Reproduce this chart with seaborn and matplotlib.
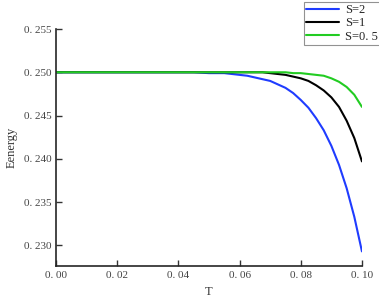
import numpy as np
import pandas as pd
import seaborn as sns
import matplotlib.pyplot as plt
from matplotlib.ticker import FuncFormatter

# valores
T = [0.00, 0.01, 0.02, 0.03, 0.04, 0.045, 0.05, 0.055, 0.06, 0.0625, 0.065, 0.0675,
     0.07, 0.0725, 0.075, 0.0775, 0.08, 0.0825, 0.085, 0.0875, 0.09, 0.0925,
     0.095, 0.0975, 0.10]
E_s2 = [0.2500, 0.2500, 0.2500, 0.2500, 0.2500, 0.2500, 0.2499, 0.2499, 0.2497, 0.2496,
        0.2494, 0.2492, 0.2490, 0.2486, 0.2482, 0.2476, 0.2468, 0.2459, 0.2447, 0.2433,
        0.2415, 0.2393, 0.2366, 0.2333, 0.2293]
E_s1 = [0.2500, 0.2500, 0.2500, 0.2500, 0.2500, 0.2500, 0.2500, 0.2500, 0.2500, 0.2500,
        0.2500, 0.2500, 0.2499, 0.2498, 0.2497, 0.2495, 0.2493, 0.2490, 0.2485, 0.2479,
        0.2471, 0.2460, 0.2444, 0.2424, 0.2397]
E_s05 = [0.2500, 0.2500, 0.2500, 0.2500, 0.2500, 0.2500, 0.2500, 0.2500, 0.2500, 0.2500,
         0.2500, 0.2500, 0.2500, 0.2500, 0.2500, 0.2499, 0.2499, 0.2498, 0.2497, 0.2496,
         0.2493, 0.2489, 0.2483, 0.2474, 0.2460]
labels = ['S=2', 'S=1', 'S=0. 5']
colors = ['#1f3cff', 'black', '#22cc22']

df = pd.DataFrame({'T': T * 3,
                   'E': E_s2 + E_s1 + E_s05,
                   'S': [labels[0]] * len(T) + [labels[1]] * len(T) + [labels[2]] * len(T)})

sns.set_style('ticks')
plt.rcParams['font.family'] = ['Liberation Serif', 'DejaVu Serif']

fig = plt.figure(figsize=(3.79, 2.99), dpi=100)
ax = fig.add_axes([0.148, 0.110, 0.807, 0.793])
sns.lineplot(data=df, x='T', y='E', hue='S', palette=colors, linewidth=1.5, ax=ax)

ax.set_xlim(0, 0.10)
ax.set_ylim(0.2276, 0.255)
ax.set_xticks(np.arange(0, 0.101, 0.02))
ax.set_yticks([0.230, 0.235, 0.240, 0.245, 0.250, 0.255])
ax.xaxis.set_major_formatter(FuncFormatter(lambda v, p: f'{v:.2f}'.replace('.', '. ')))
ax.yaxis.set_major_formatter(FuncFormatter(lambda v, p: f'{v:.3f}'.replace('.', '. ')))
ax.tick_params(direction='in', labelsize=8, length=4, width=1, colors='#333333', labelcolor='#444444')
ax.set_xlabel('T', fontsize=9, color='#333333')
ax.set_ylabel('Eenergy', fontsize=9, color='#333333')
sns.despine(ax=ax)
for s in ['left', 'bottom']:
    ax.spines[s].set_linewidth(1.2)

leg = ax.legend(loc='upper right', bbox_to_anchor=(1.06, 1.115), frameon=True, fancybox=False,
                fontsize=9, handlelength=2.6, borderaxespad=0, labelspacing=0.1,
                handletextpad=0.5, borderpad=0.2)
leg.get_frame().set_edgecolor('#777777')
leg.get_frame().set_linewidth(0.8)

plt.savefig('out.png', dpi=100)
